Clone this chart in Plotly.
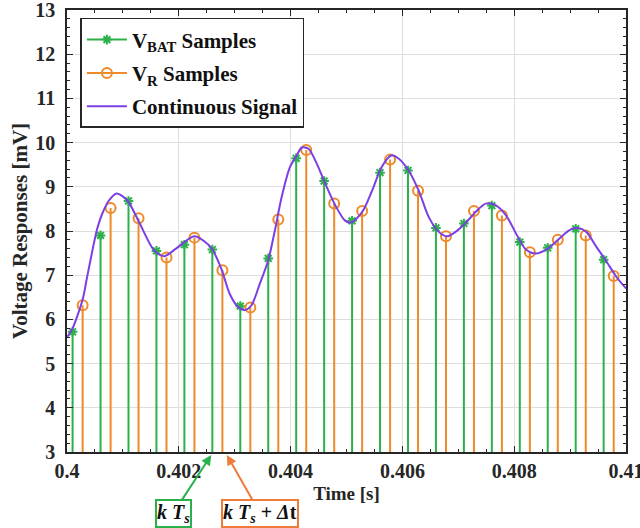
import plotly.graph_objects as go

# Sample instants [s] and sampled voltages [mV]
t_bat = [0.4001, 0.4006, 0.4011, 0.4016, 0.4021, 0.4026, 0.4031, 0.4036, 0.4041, 0.4046,
         0.4051, 0.4056, 0.4061, 0.4066, 0.4071, 0.4076, 0.4081, 0.4086, 0.4091, 0.4096]
v_bat = [5.72, 7.90, 8.68, 7.55, 7.69, 7.58, 6.30, 7.38, 9.645, 9.13,
         8.23, 9.32, 9.37, 8.07, 8.17, 8.575, 7.75, 7.62, 8.05, 7.35]

t_r = [0.40028, 0.40078, 0.40128, 0.40178, 0.40228, 0.40278, 0.40328, 0.40378, 0.40428, 0.40478,
       0.40528, 0.40578, 0.40628, 0.40678, 0.40728, 0.40778, 0.40828, 0.40878, 0.40928, 0.40978]
v_r = [6.32, 8.52, 8.29, 7.40, 7.85, 7.11, 6.27, 8.26, 9.83, 8.62,
       8.45, 9.615, 8.91, 7.88, 8.45, 8.35, 7.52, 7.80, 7.90, 6.98]

# Continuous signal
t_sig = [0.40000, 0.40009, 0.40028, 0.40036, 0.40054, 0.40063, 0.40075, 0.40089, 0.40108, 0.40129,
         0.40156, 0.40174, 0.40195, 0.40228, 0.40252, 0.40260, 0.40276, 0.40291, 0.40306, 0.40318,
         0.40330, 0.40345, 0.40360, 0.40372, 0.40384, 0.40399, 0.40411, 0.40420, 0.40432, 0.40447,
         0.40462, 0.40480, 0.40497, 0.40508, 0.40528, 0.40546, 0.40563, 0.40580, 0.40593, 0.40611,
         0.40629, 0.40647, 0.40665, 0.40680, 0.40695, 0.40713, 0.40731, 0.40749, 0.40767, 0.40785,
         0.40806, 0.40821, 0.40839, 0.40860, 0.40881, 0.40899, 0.40914, 0.40929, 0.40947, 0.40963,
         0.40983, 0.41000]
v_sig = [5.60, 5.77, 6.45, 6.96, 8.05, 8.39, 8.69, 8.85, 8.69, 8.20,
         7.56, 7.43, 7.60, 7.88, 7.70, 7.58, 7.15, 6.58, 6.28, 6.21,
         6.32, 6.81, 7.34, 8.02, 8.77, 9.45, 9.71, 9.89, 9.86, 9.52,
         9.07, 8.58, 8.24, 8.19, 8.43, 8.92, 9.45, 9.71, 9.64, 9.37,
         8.92, 8.32, 7.98, 7.88, 7.98, 8.18, 8.43, 8.62, 8.58, 8.36,
         7.88, 7.58, 7.49, 7.60, 7.83, 8.02, 8.07, 7.98, 7.64, 7.35,
         6.96, 6.70]

# Axis ticks
x_ticks = [0.4, 0.402, 0.404, 0.406, 0.408, 0.41]
x_tick_labels = ["0.4", "0.402", "0.404", "0.406", "0.408", "0.41"]
y_ticks = [3, 4, 5, 6, 7, 8, 9, 10, 11, 12, 13]

GREEN = "#2CB04A"
ORANGE = "#EE8A2A"
ARROW_ORANGE = "#EE7B3A"
PURPLE = "#7B3FE4"
INK = "#262626"
SERIF = "Liberation Serif"
STEM_BASE = 0.0


def stem_xy(t, v):
    """Vertical stems from the baseline up to each sample (baseline is below the view)."""
    xs, ys = [], []
    for ti, vi in zip(t, v):
        xs += [ti, ti, None]
        ys += [STEM_BASE, vi, None]
    return xs, ys


fig = go.Figure()

xb, yb = stem_xy(t_bat, v_bat)
fig.add_trace(go.Scatter(
    x=xb, y=yb, mode="lines+markers", name="V<sub>BAT</sub> Samples",
    legendgroup="bat",
    line=dict(color=GREEN, width=2),
    marker=dict(symbol="asterisk", size=8, color=GREEN, line=dict(color=GREEN, width=2)),
    cliponaxis=True,
))

xr, yr = stem_xy(t_r, v_r)
fig.add_trace(go.Scatter(
    x=xr, y=yr, mode="lines+markers", name="V<sub>R</sub> Samples",
    legendgroup="r",
    line=dict(color=ORANGE, width=2),
    marker=dict(symbol="circle-open", size=10, color=ORANGE, line=dict(color=ORANGE, width=2)),
    cliponaxis=True,
))

fig.add_trace(go.Scatter(
    x=t_sig, y=v_sig, mode="lines", name="Continuous Signal",
    legendgroup="sig",
    line=dict(color=PURPLE, width=2, shape="spline", smoothing=0.8),
))

axis_common = dict(
    showline=True, linecolor=INK, linewidth=1.5, mirror="allticks",
    ticks="inside", ticklen=6, tickwidth=1.2, tickcolor=INK,
    showgrid=True, gridcolor="#DEDEDE", gridwidth=1, zeroline=False,
    tickfont=dict(family=SERIF, size=20, color=INK, weight="bold"),
    ticklabeloverflow="allow", automargin=False,
)

fig.update_xaxes(
    range=[0.4, 0.41], tickvals=x_ticks, ticktext=x_tick_labels,
    minor=dict(dtick=0.0005, tick0=0.4, ticks="inside", ticklen=3, tickcolor=INK, showgrid=False),
    title=dict(text="Time [s]", font=dict(family=SERIF, size=19, color=INK, weight="bold"),
               standoff=6),
    **axis_common,
)
fig.update_yaxes(
    range=[3, 13], tickvals=y_ticks,
    minor=dict(dtick=0.2, tick0=3, ticks="inside", ticklen=3, tickcolor=INK, showgrid=False),
    title=dict(text="Voltage Responses [mV]",
               font=dict(family=SERIF, size=21, color=INK, weight="bold"), standoff=2),
    ticklabelstandoff=6,
    **axis_common,
)

fig.update_layout(
    width=640, height=528,
    margin=dict(l=67, r=14, t=10, b=76),
    paper_bgcolor="white", plot_bgcolor="white",
    legend=dict(
        x=0.024, y=0.982, xanchor="left", yanchor="top",
        bgcolor="white", bordercolor=INK, borderwidth=1.5,
        font=dict(family=SERIF, size=21, color="#111111", weight="bold"),
        itemwidth=40, traceorder="grouped", tracegroupgap=3,
    ),
    showlegend=True,
)

# Sampling-instant callouts below the time axis
fig.add_annotation(
    x=0.40258, y=-0.007, xref="x", yref="paper",
    text="<b><i>k T</i><sub><i>s</i></sub></b>",
    font=dict(family=SERIF, size=20, color="#111111"),
    showarrow=True, arrowhead=2, arrowsize=1, arrowwidth=2, arrowcolor=GREEN,
    ax=-38, ay=58, bordercolor=GREEN, borderwidth=2, borderpad=0, bgcolor="white",
)
fig.add_annotation(
    x=0.40286, y=-0.007, xref="x", yref="paper",
    text="<b><i>k T</i><sub><i>s</i></sub> + <i>Δ</i>t</b>",
    font=dict(family=SERIF, size=20, color="#111111"),
    showarrow=True, arrowhead=2, arrowsize=1, arrowwidth=2, arrowcolor=ARROW_ORANGE,
    ax=33, ay=58, bordercolor=ARROW_ORANGE, borderwidth=2, borderpad=0, bgcolor="white",
)

fig.write_html("out.html")
